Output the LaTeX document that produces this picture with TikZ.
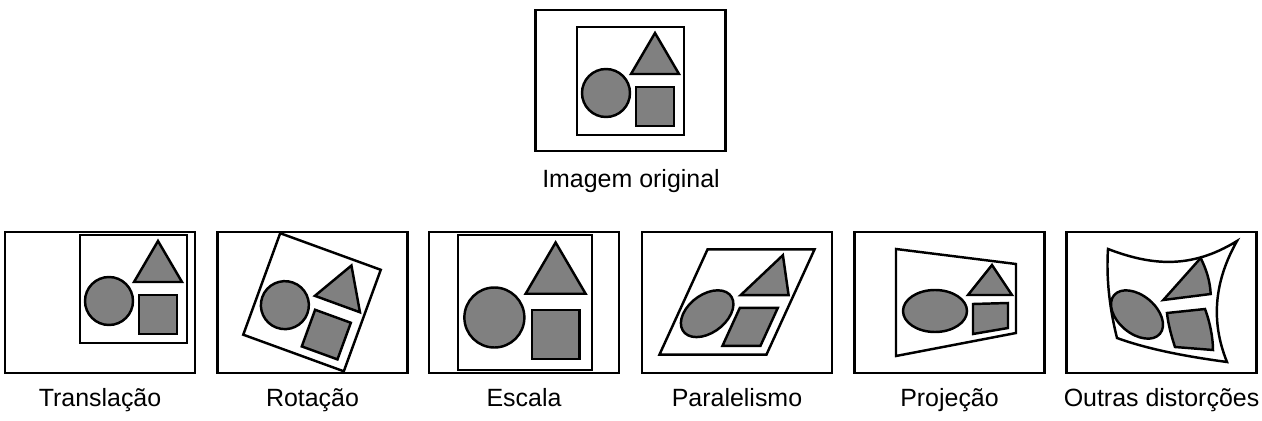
\documentclass[tikz,border=0pt]{standalone}
\usepackage{fontspec}
\setmainfont{Liberation Sans}
\usetikzlibrary{positioning}
\definecolor{shapegray}{RGB}{128,128,128}
\tikzset{
  outer-frame/.style={draw=black, line width=1.4pt, minimum width=3.8cm,
    minimum height=2.82cm, inner sep=0pt},
  inner-frame/.style={draw=black, line width=1.4pt, line join=miter},
  solid-shape/.style={draw=black, line width=1.4pt, fill=shapegray, line join=miter},
  caption-label/.style={font=\fontsize{14.2}{17}\selectfont, anchor=base}
}
% the small picture (frame, circle, triangle, square) around its own centre
\newcommand{\sampleimage}{%
  \draw[inner-frame] (-53.5,-54) rectangle (53.5,54);
  \draw[solid-shape] (-24.5,-12) circle (24);
  \draw[solid-shape] (24.5,48) -- (0.5,7) -- (48.5,7) -- cycle;
  \draw[solid-shape] (5.5,-6) rectangle (43.5,-45);
}
\begin{document}
\begin{tikzpicture}[x=0.02cm, y=0.02cm]
\useasboundingbox (0,0) rectangle (1262,420);

% Original image
\node[outer-frame] (frame-orig) at (630.5,339.5) {};
\begin{scope}[shift={(630.5,339)}]
  \sampleimage
\end{scope}
\node[caption-label] (label-orig) at (631,233) {Imagem original};

% Six outer frames and their captions
\foreach \cx/\name/\txt in {
  100/trans/{Translação},
  312.5/rot/{Rotação},
  524/scale/{Escala},
  737/par/{Paralelismo},
  949.5/proj/{Projeção},
  1161.5/other/{Outras distorções}}
{
  \node[outer-frame] (frame-\name) at (\cx,117.5) {};
  \node[caption-label] (label-\name) at (\cx,14) {\txt};
}

% Translation
\begin{scope}[shift={(133.5,131)}]
  \sampleimage
\end{scope}

% Rotation
\begin{scope}[shift={(312,117.75)}, rotate=-20]
  \sampleimage
\end{scope}

% Scale
\begin{scope}[shift={(525,117.5)}, scale=1.25]
  \sampleimage
\end{scope}

% Shear (parallel lines kept)
\begin{scope}[shift={(737,118)}, xslant=0.457, yscale=0.975]
  \sampleimage
\end{scope}

% Projection
\draw[inner-frame] (896,171) -- (1016,156) -- (1016,87) -- (896,64) -- cycle;
\draw[solid-shape] (935,109) ellipse [x radius=32, y radius=21];
\draw[solid-shape] (992,155) -- (968,125) -- (1012,125) -- cycle;
\draw[solid-shape] (973,116) -- (1008,117) -- (1008,92) -- (973,86) -- cycle;

% Other distortions
\draw[inner-frame] (1108,171) .. controls (1150,155) and (1190,150) .. (1237,179)
  .. controls (1215,140) and (1210,100) .. (1227,58)
  .. controls (1190,63) and (1150,70) .. (1117,82)
  .. controls (1110,110) and (1106,140) .. (1108,171) -- cycle;
\draw[solid-shape, rotate around={-40:(1137,105.5)}] (1137,105.5)
  ellipse [x radius=30, y radius=19];
\draw[solid-shape] (1200.7,162) .. controls (1206,151) and (1210,140) .. (1210.7,126)
  -- (1163.3,120) -- cycle;
\draw[solid-shape] (1167,107) -- (1205,111)
  .. controls (1210,98) and (1213,82) .. (1213,70) -- (1175,73)
  .. controls (1171,85) and (1168,97) .. (1167,107) -- cycle;
\end{tikzpicture}
\end{document}
